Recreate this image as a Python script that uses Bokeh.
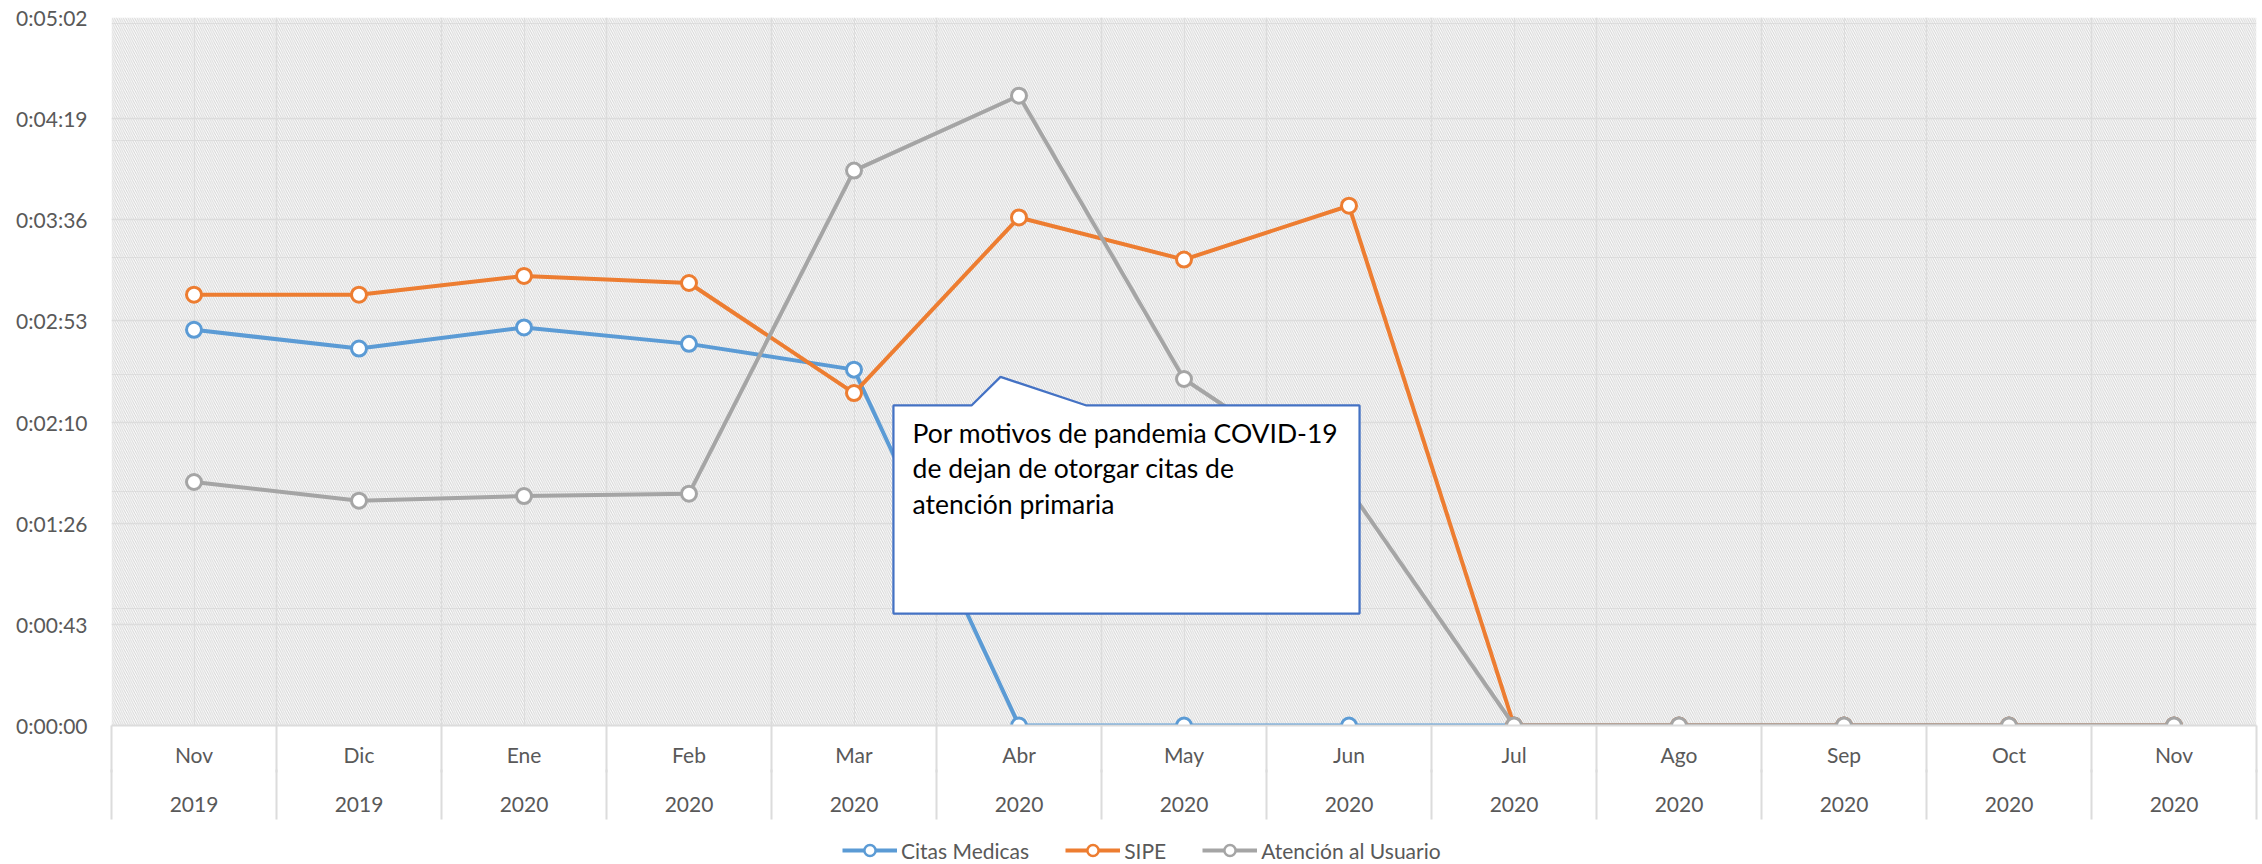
from bokeh.plotting import figure
from bokeh.layouts import column
from bokeh.models import (Range1d, LinearAxis, FixedTicker, CustomJSTickFormatter,
                          BoxAnnotation, Legend, LegendItem, Grid)
from bokeh.embed import file_html
from bokeh.resources import INLINE
from bokeh.core.properties import value

# ---- data (values in seconds) ----
months = ["Nov", "Dic", "Ene", "Feb", "Mar", "Abr", "May", "Jun", "Jul", "Ago", "Sep", "Oct", "Nov"]
years = ["2019", "2019", "2020", "2020", "2020", "2020", "2020", "2020", "2020", "2020", "2020", "2020", "2020"]
citas_medicas = [169, 161, 170, 163, 152, 0, 0, 0, 0, 0, 0, 0, 0]
sipe = [184, 184, 192, 189, 142, 217, 199, 222, 0, 0, 0, 0, 0]
atencion_usuario = [104, 96, 98, 99, 237, 269, 148, 101, 0, 0, 0, 0, 0]
y_tick_labels = ["0:00:00", "0:00:43", "0:01:26", "0:02:10", "0:02:53", "0:03:36", "0:04:19", "0:05:02"]
y_step = 43.2  # seconds (0.0005 day)
series_names = ["Citas Medicas", "SIPE", "Atención al Usuario"]
series_colors = ["#5B9BD5", "#ED7D31", "#A5A5A5"]
note_lines = ["Por motivos de pandemia COVID-19", "de dejan de otorgar citas de", "atención primaria"]

FONT = "Lato"
TICK_COLOR = "#595959"
GRID_COLOR = "#dcdcdc"

x = list(range(len(months)))
y_ticks = [round(i * y_step, 1) for i in range(len(y_tick_labels))]
y_max = y_ticks[-1]

p = figure(width=2262, height=828, frame_width=2145, frame_height=708,
           output_backend="svg", toolbar_location=None,
           x_range=Range1d(-0.5, len(months) - 0.5), y_range=Range1d(0, y_max),
           x_axis_location=None, y_axis_location=None,
           min_border_left=111, min_border_right=6, min_border_top=17, min_border_bottom=103)
p.outline_line_color = None
p.background_fill_color = "white"
p.border_fill_color = "white"

# hatched plot area
p.add_layout(BoxAnnotation(left=-0.5, right=len(months) - 0.5, bottom=0, top=y_max,
                           fill_alpha=0, line_color=None, level="underlay",
                           hatch_pattern="left_diagonal_line", hatch_color="#d4d4d4",
                           hatch_scale=4.5, hatch_weight=1))

boundaries = [i - 0.5 for i in range(len(months) + 1)]
p.add_layout(Grid(dimension=0, ticker=FixedTicker(ticks=boundaries),
                  grid_line_color=GRID_COLOR, grid_line_width=1.5))
p.add_layout(Grid(dimension=1, ticker=FixedTicker(ticks=y_ticks),
                  grid_line_color=GRID_COLOR, grid_line_width=1.5))

# y axis
yaxis = LinearAxis(ticker=FixedTicker(ticks=y_ticks),
                   formatter=CustomJSTickFormatter(args=dict(labels=y_tick_labels, step=y_step),
                                                   code="return labels[Math.round(tick/step)]"),
                   axis_line_color=None, major_tick_line_color=None, minor_tick_line_color=None,
                   major_tick_out=0, major_tick_in=0, minor_tick_out=0, minor_tick_in=0,
                   major_label_standoff=24,
                   major_label_text_font=FONT, major_label_text_font_size="21px",
                   major_label_text_color=TICK_COLOR)
p.add_layout(yaxis, "left")

# two-level category axis; separators drawn as outward minor ticks (negative "in")
def cat_axis(labels, line_color, standoff, sep_len):
    return LinearAxis(ticker=FixedTicker(ticks=x, minor_ticks=boundaries),
                      formatter=CustomJSTickFormatter(args=dict(labels=labels),
                                                      code="return labels[Math.round(tick)]"),
                      axis_line_color=line_color, axis_line_width=2,
                      major_tick_line_color=None, major_tick_out=0, major_tick_in=0,
                      minor_tick_line_color=GRID_COLOR, minor_tick_line_width=2,
                      minor_tick_out=0, minor_tick_in=-sep_len,
                      major_label_standoff=standoff,
                      major_label_text_font=FONT, major_label_text_font_size="21px",
                      major_label_text_color=TICK_COLOR)

p.add_layout(cat_axis(months, GRID_COLOR, 16, 47), "below")
p.add_layout(cat_axis(years, None, 27, 50), "below")

# series
for name, vals, col in zip(series_names, [citas_medicas, sipe, atencion_usuario], series_colors):
    p.line(x, vals, line_color=col, line_width=4, line_join="round")
    p.scatter(x, vals, marker="circle", size=15, fill_color="white", line_color=col, line_width=3)

# callout
box_xs = [4.239, 4.712, 4.888, 5.409, 7.064, 7.064, 4.239]
box_ys = [136.7, 136.7, 148.9, 136.7, 136.7, 47.8, 47.8]
p.patch(box_xs, box_ys, fill_color="white", line_color="#4472C4", line_width=2.25)
p.text(x=[4.355] * 3, y=[125.1, 109.8, 94.4], text=note_lines,
       text_font=value(FONT), text_font_size="26.5px", text_color="black",
       text_align="left", text_baseline="middle")

# legend strip below the chart
lg = figure(width=2262, height=36, output_backend="svg", toolbar_location=None,
            x_range=Range1d(0, 1), y_range=Range1d(0, 1),
            x_axis_location=None, y_axis_location=None,
            min_border_left=0, min_border_right=0, min_border_top=0, min_border_bottom=0)
lg.outline_line_color = None
lg.grid.visible = False
items = []
for name, col in zip(series_names, series_colors):
    lr = lg.line([-10, -9], [-10, -10], line_color=col, line_width=4)
    sr = lg.scatter([-10], [-10], marker="circle", size=15, fill_color="white",
                    line_color=col, line_width=2.5)
    items.append(LegendItem(label=name, renderers=[lr, sr]))
legend = Legend(items=items, orientation="horizontal", location=(731, 0),
                glyph_width=55, glyph_height=28, label_height=28, label_standoff=4, spacing=36,
                padding=0, margin=0, border_line_color=None, background_fill_alpha=0,
                label_text_font=FONT, label_text_font_size="21px",
                label_text_color=TICK_COLOR)
lg.add_layout(legend)

layout = column(p, lg, spacing=0)
open("out.html", "w").write(file_html(layout, INLINE))
